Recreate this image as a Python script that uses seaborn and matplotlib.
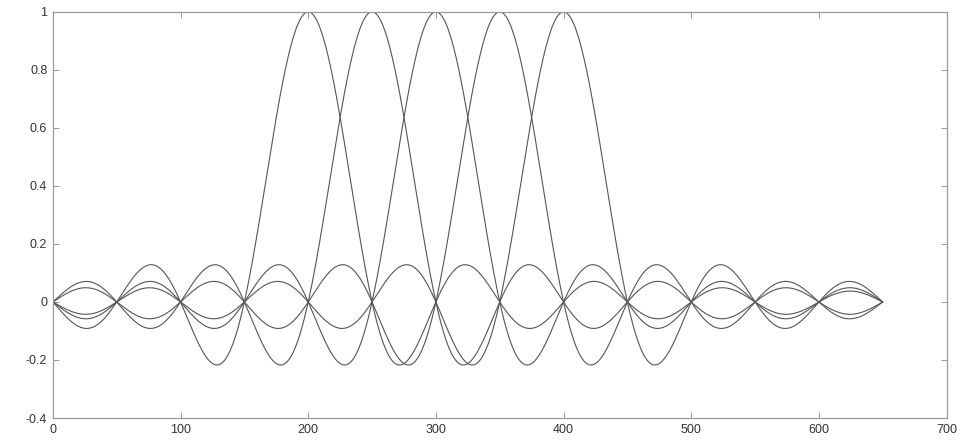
import numpy as np
import pandas as pd
import matplotlib
matplotlib.use("Agg")
import matplotlib.pyplot as plt
import seaborn as sns

# Data: five sinc kernels, zero crossings every 50 samples
centers = [200, 250, 300, 350, 400]
zero_spacing = 50
x_start, x_end = 0, 650
x_ticks = [0, 100, 200, 300, 400, 500, 600, 700]
y_ticks = [-0.4, -0.2, 0, 0.2, 0.4, 0.6, 0.8, 1]
y_tick_labels = ["-0.4", "-0.2", "0", "0.2", "0.4", "0.6", "0.8", "1"]

x = np.arange(x_start, x_end + 1)
frames = []
for c in centers:
    frames.append(pd.DataFrame({"x": x, "y": np.sinc((x - c) / zero_spacing), "centre": c}))
df = pd.concat(frames, ignore_index=True)

sns.set_style("white")
plt.rcParams["font.family"] = ["Liberation Sans", "DejaVu Sans"]

fig = plt.figure(figsize=(9.61, 4.40), dpi=100)
ax = fig.add_axes([0.055, 0.05, 0.930, 0.923])

sns.lineplot(data=df, x="x", y="y", hue="centre", palette=["#555555"] * len(centers),
             linewidth=0.8, legend=False, ax=ax, estimator=None)

ax.set_xlim(0, 700)
ax.set_ylim(-0.4, 1)
ax.set_xticks(x_ticks)
ax.set_yticks(y_ticks)
ax.set_yticklabels(y_tick_labels)
ax.set_xlabel("")
ax.set_ylabel("")
ax.tick_params(direction="in", length=4, width=0.6, colors="#888888",
               labelcolor="#333333", labelsize=9, top=True, right=True,
               bottom=True, left=True, pad=4)
for s in ax.spines.values():
    s.set_visible(True)
    s.set_color("#999999")
    s.set_linewidth(0.9)

fig.savefig("out.png", dpi=100, facecolor="white")
